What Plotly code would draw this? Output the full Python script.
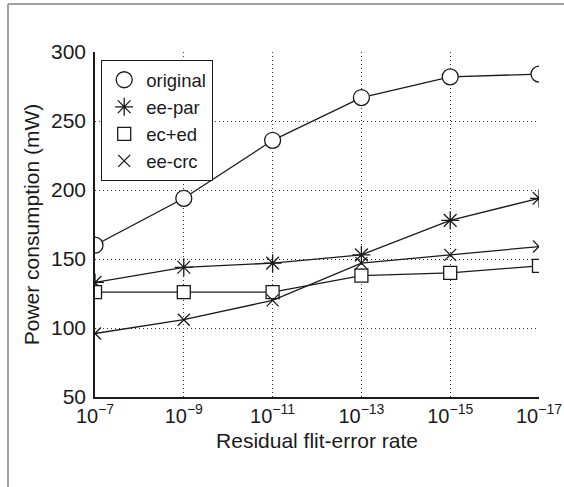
import plotly.graph_objects as go

x_vals = [1e-7, 1e-9, 1e-11, 1e-13, 1e-15, 1e-17]
tick_text = ["10<sup>−7</sup>", "10<sup>−9</sup>", "10<sup>−11</sup>",
             "10<sup>−13</sup>", "10<sup>−15</sup>", "10<sup>−17</sup>"]
original = [160, 194, 236, 267, 282, 284]
ee_par = [133, 144, 147, 153, 178, 194]
ec_ed = [126, 126, 126, 138, 140, 145]
ee_crc = [96, 106, 120, 147, 153, 159]

INK = "#1a1a1a"
series = [
    ("original", original, "circle", 16, "white"),
    ("ee-par", ee_par, "asterisk-open", 15, INK),
    ("ec+ed", ec_ed, "square", 13, "white"),
    ("ee-crc", ee_crc, "x-thin-open", 12, INK),
]

FONT = "Liberation Sans, Arial, Helvetica, sans-serif"

fig = go.Figure()
for name, ys, sym, sz, fill in series:
    fig.add_trace(go.Scatter(
        x=x_vals, y=ys, mode="lines+markers", name=name, showlegend=False,
        line=dict(color=INK, width=1.3),
        marker=dict(symbol=sym, size=sz, color=fill,
                    line=dict(color=INK, width=1.3)),
    ))
for name, ys, sym, sz, fill in series:
    fig.add_trace(go.Scatter(
        x=[None], y=[None], mode="markers", name=name,
        marker=dict(symbol=sym, size=sz, color=fill,
                    line=dict(color=INK, width=1.3)),
    ))

W, H = 564, 487
L, R, T, B = 95, 25, 52, 90
pw, ph = W - L - R, H - T - B

def px_to_paper_x(px):
    return (px - L) / pw

def px_to_paper_y(py):
    return (H - B - py) / ph

fig.add_shape(type="line", xref="paper", yref="paper",
              x0=px_to_paper_x(8), x1=px_to_paper_x(8),
              y0=px_to_paper_y(4), y1=px_to_paper_y(H),
              line=dict(color="#a0a0a0", width=2))
fig.add_shape(type="line", xref="paper", yref="paper",
              x0=px_to_paper_x(8), x1=px_to_paper_x(W),
              y0=px_to_paper_y(4), y1=px_to_paper_y(4),
              line=dict(color="#a0a0a0", width=2))

GRID = dict(showgrid=True, gridcolor="#333", griddash="1px,3px", gridwidth=1.2)

fig.update_layout(
    width=W, height=H,
    margin=dict(l=L, r=R, t=T, b=B),
    paper_bgcolor="white", plot_bgcolor="white",
    font=dict(family=FONT, size=20, color=INK),
    xaxis=dict(
        type="log", range=[-7, -17], automargin=False,
        tickvals=x_vals, ticktext=tick_text,
        showline=True, linecolor=INK, linewidth=1.5,
        ticks="", zeroline=False,
        title=dict(text="Residual flit-error rate", font=dict(size=21), standoff=8),
        tickfont=dict(size=20),
        **GRID,
    ),
    yaxis=dict(
        range=[50, 300], dtick=50, automargin=False,
        showline=True, linecolor=INK, linewidth=1.5,
        ticks="", zeroline=False, ticklabelstandoff=3,
        title=dict(text="Power consumption (mW)", font=dict(size=21), standoff=6),
        tickfont=dict(size=21),
        **GRID,
    ),
    legend=dict(
        x=px_to_paper_x(101), y=px_to_paper_y(60), xanchor="left", yanchor="top",
        bgcolor="white", bordercolor=INK, borderwidth=1.2,
        font=dict(size=18.5), itemwidth=34,
    ),
)

fig.write_html(
    "out.html",
    config={"responsive": False, "displayModeBar": False},
    post_script="document.body.style.margin='0';document.body.style.overflow='hidden';",
)
